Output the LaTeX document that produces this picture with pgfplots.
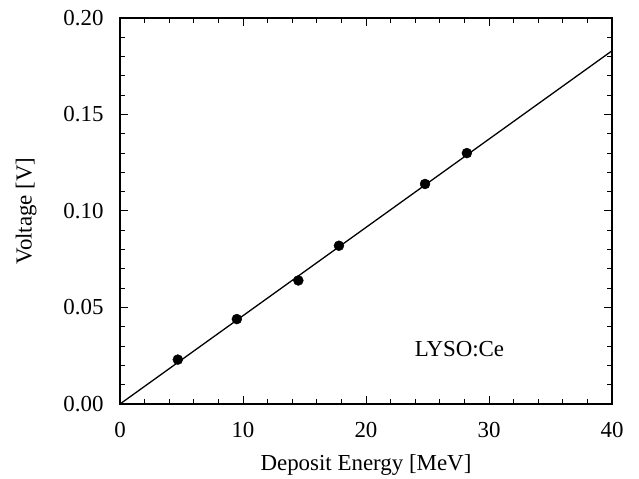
\documentclass[border=0pt]{standalone}
\usepackage{fontspec}
\setmainfont{Liberation Serif}
\usepackage{pgfplots}
\pgfplotsset{compat=1.18}
\begin{document}
\begin{tikzpicture}
\begin{axis}[
  name=ax,
  scale only axis,
  width=492bp, height=386bp,
  xmin=0, xmax=40, ymin=0, ymax=0.20,
  xtick={0,10,20,30,40},
  ytick={0,0.05,0.10,0.15,0.20},
  minor x tick num=4,
  minor y tick num=4,
  tick align=inside,
  major tick length=8bp,
  minor tick length=5bp,
  every tick/.style={black, line width=1pt},
  axis line style={line width=1.4pt},
  /pgf/number format/assume math mode=true,
  yticklabel style={/pgf/number format/fixed, /pgf/number format/fixed zerofill, /pgf/number format/precision=2},
  scaled y ticks=false,
  tick label style={font=\fontsize{23}{27}\selectfont},
  xlabel={Deposit Energy [MeV]},
  ylabel={Voltage [V]},
  every axis x label/.style={at={(axis description cs:0.5,-0.171)}, anchor=base, font=\fontsize{23}{27}\selectfont},
  every axis y label/.style={at={(axis description cs:-0.191,0.5)}, anchor=center, rotate=90, font=\fontsize{23}{27}\selectfont},
  xticklabel style={yshift=-15bp},
  yticklabel style={xshift=-13bp},
  clip=true,
]
\addplot[black, line width=1.3pt, no marks] coordinates {(0,0) (40,0.183)};
\addplot[only marks, mark=*, mark size=5bp, black] coordinates {
  (4.7,0.023) (9.5,0.044) (14.5,0.064) (17.8,0.082) (24.8,0.114) (28.2,0.130)
};
\node[anchor=center, font=\fontsize{23}{27}\selectfont] at (axis cs:27.6,0.0285) {LYSO:Ce};
\end{axis}
\path[use as bounding box] ([shift={(-120bp,-73bp)}]ax.south west) rectangle ([shift={(27bp,18bp)}]ax.north east);
\end{tikzpicture}
\end{document}
